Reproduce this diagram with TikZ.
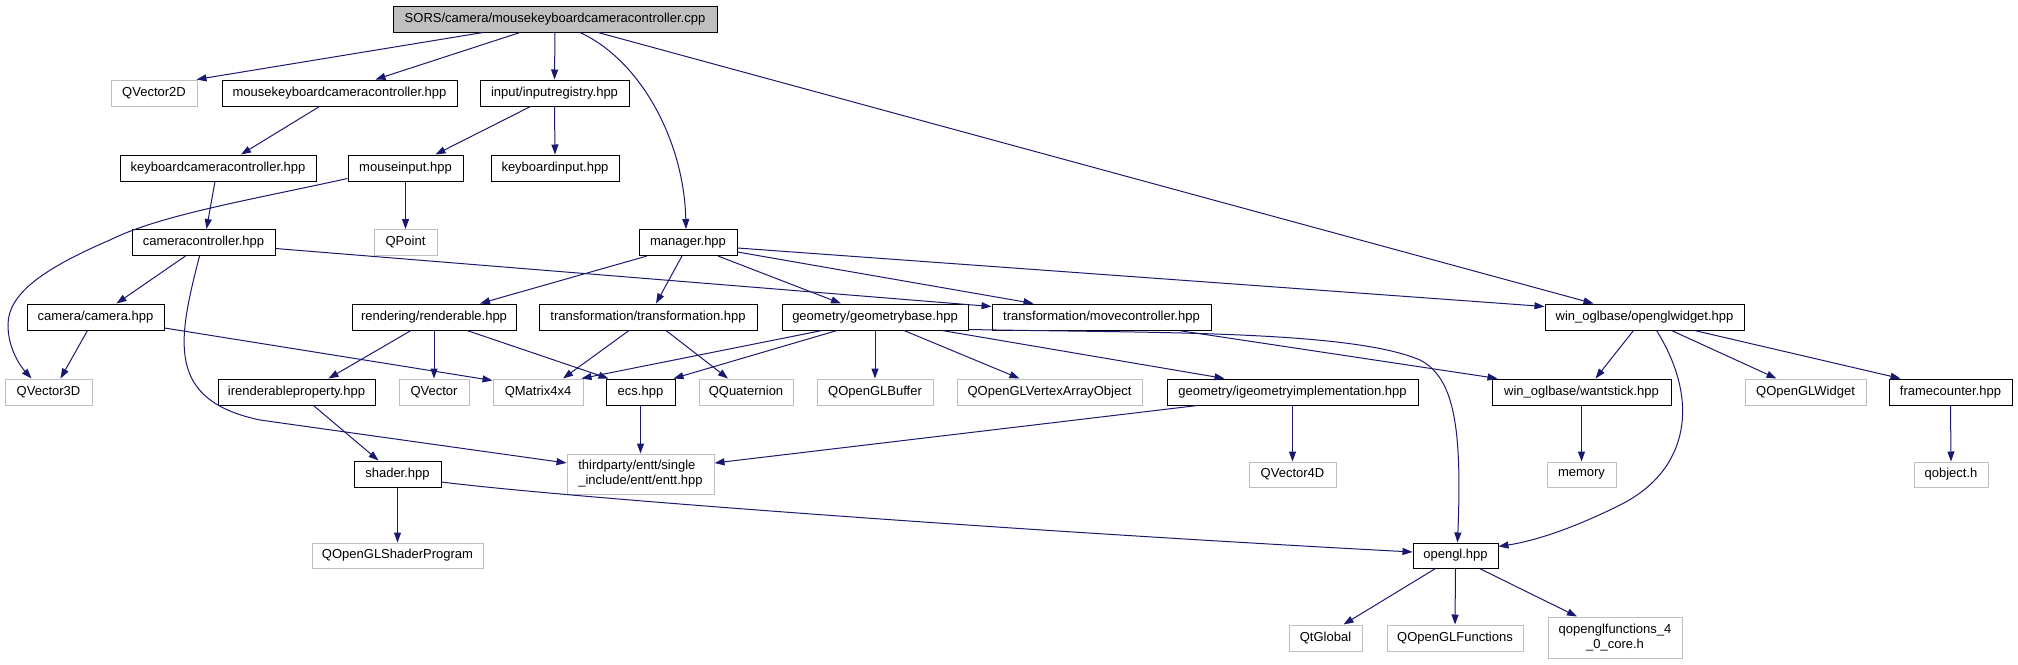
\documentclass[tikz,border=0pt]{standalone}
\usepackage{fontspec}
\setmainfont{Liberation Sans}
\usetikzlibrary{arrows.meta}
\definecolor{grey75}{HTML}{BFBFBF}
\definecolor{mblue}{HTML}{191970}
\tikzset{
  box/.style={draw=black, line width=1pt, inner sep=0pt, minimum height=26pt, fill=white,
              font=\fontsize{13}{15}\selectfont},
  gbox/.style={box, draw=grey75},
  lnk/.style={draw=mblue, line width=1pt, -{Triangle[length=10pt,width=7pt]}},
}
\begin{document}
\begin{tikzpicture}[x=1pt,y=-1pt]
\useasboundingbox (0,0) rectangle (2018,664);
% nodes
\node[box, fill=grey75, minimum width=324] (R) at (555,19) {SORS/camera/mousekeyboardcameracontroller.cpp};
\node[gbox, minimum width=86] (qv2) at (154,93) {QVector2D};
\node[box, minimum width=235] (mkcc) at (339.5,93) {mousekeyboardcameracontroller.hpp};
\node[box, minimum width=149] (ir) at (554.5,93) {input/inputregistry.hpp};
\node[box, minimum width=196] (kbcc) at (218,168) {keyboardcameracontroller.hpp};
\node[box, minimum width=115] (mi) at (405.5,168) {mouseinput.hpp};
\node[box, minimum width=128] (ki) at (555,168) {keyboardinput.hpp};
\node[box, minimum width=143] (cc) at (203.5,242.5) {cameracontroller.hpp};
\node[gbox, minimum width=63] (qpt) at (405.5,242.5) {QPoint};
\node[box, minimum width=98] (mgr) at (688,242.5) {manager.hpp};
\node[box, minimum width=137] (cam) at (95.5,317) {camera/camera.hpp};
\node[box, minimum width=164] (ren) at (434,317) {rendering/renderable.hpp};
\node[box, minimum width=218] (trf) at (648,317) {transformation/transformation.hpp};
\node[box, minimum width=186] (gb) at (875,317) {geometry/geometrybase.hpp};
\node[box, minimum width=219] (mc) at (1101.5,317) {transformation/movecontroller.hpp};
\node[box, minimum width=199] (ow) at (1644.5,317) {win\_oglbase/openglwidget.hpp};
\node[gbox, minimum width=87] (qv3) at (48.5,392) {QVector3D};
\node[box, minimum width=157] (irp) at (296.5,392) {irenderableproperty.hpp};
\node[gbox, minimum width=70] (qvec) at (434,392) {QVector};
\node[gbox, minimum width=90] (qm) at (538,392) {QMatrix4x4};
\node[box, minimum width=69] (ecs) at (640.5,392) {ecs.hpp};
\node[gbox, minimum width=94] (qq) at (746,392) {QQuaternion};
\node[gbox, minimum width=116] (qbuf) at (875,392) {QOpenGLBuffer};
\node[gbox, minimum width=185] (vao) at (1049.5,392) {QOpenGLVertexArrayObject};
\node[box, minimum width=251] (igi) at (1292.5,392) {geometry/igeometryimplementation.hpp};
\node[box, minimum width=179] (ws) at (1581.5,392) {win\_oglbase/wantstick.hpp};
\node[gbox, minimum width=121] (qglw) at (1805.5,392) {QOpenGLWidget};
\node[box, minimum width=123] (fc) at (1950.5,392) {framecounter.hpp};
\node[box, minimum width=87] (shd) at (397.5,474) {shader.hpp};
\node[gbox, minimum width=147, minimum height=40, align=left] (entt) at (640.5,474) {thirdparty/entt/single\\\_include/entt/entt.hpp};
\node[gbox, minimum width=87, minimum height=25] (qv4) at (1292.5,474.5) {QVector4D};
\node[gbox, minimum width=69, minimum height=25] (mem) at (1581.5,474.5) {memory};
\node[gbox, minimum width=74, minimum height=25] (qobj) at (1951,474.5) {qobject.h};
\node[gbox, minimum width=171, minimum height=25] (qsp) at (397.5,555.5) {QOpenGLShaderProgram};
\node[box, minimum width=85, minimum height=25] (gl) at (1455.5,555.5) {opengl.hpp};
\node[gbox, minimum width=73] (qtg) at (1325.5,638) {QtGlobal};
\node[gbox, minimum width=136] (qglf) at (1455,638) {QOpenGLFunctions};
\node[gbox, minimum width=134, minimum height=41, align=center] (q40) at (1615,637.5) {qopenglfunctions\_4\\\_0\_core.h};
% edges
\draw[lnk] ([xshift=-72]R.south) -- ([xshift=-1]qv2.north east);
\draw[lnk] ([xshift=-35]R.south) -- ([xshift=36]mkcc.north);
\draw[lnk] (R.south) -- (ir.north);
\draw[lnk] ([xshift=25]R.south) .. controls (640,60) and (684,140) .. ([xshift=-2]mgr.north);
\draw[lnk] ([xshift=43]R.south) -- ([xshift=-51]ow.north);
\draw[lnk] ([xshift=-20]mkcc.south) -- ([xshift=23]kbcc.north);
\draw[lnk] ([xshift=-24]ir.south) -- ([xshift=30]mi.north);
\draw[lnk] (ir.south) -- (ki.north);
\draw[lnk] ([xshift=-3]kbcc.south) -- ([xshift=3]cc.north);
\draw[lnk] (mi.south) -- (qpt.north);
\draw[lnk] ([yshift=3]mi.south west) .. controls (250,200) and (160,215) .. (110,240)
  .. controls (40,270) and (8,295) .. (8,325) .. controls (8,350) and (22,368) .. ([xshift=-17]qv3.north);
\draw[lnk] ([xshift=-18]cc.south) -- ([xshift=21]cam.north);
\draw[lnk] ([xshift=-4]cc.south) .. controls (178,340) and (165,400) .. (260,420) -- ([yshift=11]entt.west);
\draw[lnk] ([yshift=-6]cc.east) -- ([yshift=-3]mc.north west);
\draw[lnk] ([xshift=-41]mgr.south) -- ([xshift=46]ren.north);
\draw[lnk] ([xshift=-6]mgr.south) -- ([xshift=8]trf.north);
\draw[lnk] ([xshift=30]mgr.south) -- ([xshift=-34]gb.north);
\draw[lnk] ([yshift=-9.5]mgr.east) -- ([xshift=-68]mc.north);
\draw[lnk] ([yshift=-5.5]mgr.east) -- ([yshift=-3]ow.north west);
\draw[lnk] ([xshift=-8]cam.south) -- ([xshift=12]qv3.north);
\draw[lnk] ([yshift=-11]cam.east) -- ([yshift=-2]qm.north west);
\draw[lnk] ([xshift=-23]ren.south) -- ([xshift=32]irp.north);
\draw[lnk] (ren.south) -- (qvec.north);
\draw[lnk] ([xshift=33]ren.south) -- ([xshift=3]ecs.north west);
\draw[lnk] ([xshift=-19]trf.south) -- ([xshift=25]qm.north);
\draw[lnk] ([xshift=18]trf.south) -- ([xshift=-18]qq.north);
\draw[lnk] ([xshift=-53]gb.south) -- ([xshift=-2]qm.north east);
\draw[lnk] ([xshift=-38]gb.south) -- ([xshift=-2]ecs.north east);
\draw[lnk] (gb.south) -- (qbuf.north);
\draw[lnk] ([xshift=29]gb.south) -- ([xshift=-30]vao.north);
\draw[lnk] ([xshift=67]gb.south) -- ([xshift=-68]igi.north);
\draw[lnk] ([yshift=1]gb.south east) .. controls (1150,333) and (1350,330) .. (1420,360)
  .. controls (1455,378) and (1462,430) .. ([xshift=2]gl.north);
\draw[lnk] ([xshift=77]mc.south) -- ([xshift=6]ws.north west);
\draw[lnk] ([xshift=-11]ow.south) -- ([xshift=14]ws.north);
\draw[lnk] ([xshift=12]ow.south) .. controls (1700,400) and (1690,470) .. (1620,505)
  .. controls (1580,525) and (1540,540) .. ([yshift=-4]gl.north east);
\draw[lnk] ([xshift=27]ow.south) -- ([xshift=-29]qglw.north);
\draw[lnk] ([xshift=50]ow.south) -- ([xshift=-50]fc.north);
\draw[lnk] ([xshift=17]irp.south) -- ([xshift=-19]shd.north);
\draw[lnk] (ecs.south) -- (entt.north);
\draw[lnk] ([xshift=-95]igi.south) -- ([yshift=11]entt.east);
\draw[lnk] (igi.south) -- (qv4.north);
\draw[lnk] (ws.south) -- (mem.north);
\draw[lnk] (fc.south) -- (qobj.north);
\draw[lnk] (shd.south) -- (qsp.north);
\draw[lnk] ([yshift=-8]shd.east) .. controls (560,497) and (1000,530) .. ([yshift=3.5]gl.west);
\draw[lnk] ([xshift=-20]gl.south) -- ([xshift=18]qtg.north);
\draw[lnk] (gl.south) -- (qglf.north);
\draw[lnk] ([xshift=24]gl.south) -- ([xshift=-38]q40.north);
\end{tikzpicture}
\end{document}
